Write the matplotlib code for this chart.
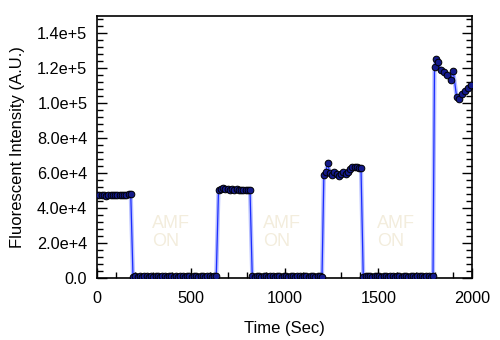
import numpy as np
import matplotlib as mpl
mpl.use('Agg')
import matplotlib.pyplot as plt
from matplotlib.ticker import MultipleLocator, FuncFormatter

plt.rcParams['font.family'] = ['Liberation Sans', 'DejaVu Sans']

## readings, ~12 s sampling
t_on1 = [0, 12, 24, 36, 48, 60, 72, 84, 96, 108, 120, 132, 144, 156, 168, 180]
v_on1 = [47800, 47500, 47300, 47600, 47200, 47400, 47700, 47300, 47500, 47600, 47400,
         47700, 47500, 47800, 47900, 48300]

t_off1 = [192, 204, 216, 228, 240, 252, 264, 276, 288, 300, 312, 324, 336, 348, 360, 372,
          384, 396, 408, 420, 432, 444, 456, 468, 480, 492, 504, 516, 528, 540, 552, 564,
          576, 588, 600, 612, 624, 636]
v_off1 = [900, 1000, 800, 1100, 900, 1000, 1200, 900, 1000, 800, 1100, 1000, 900, 1000,
          1100, 900, 1000, 1200, 900, 1000, 800, 1100, 1000, 900, 1000, 1100, 900, 1000,
          1000, 900, 1100, 1000, 900, 1000, 1100, 900, 1000, 1000]

t_on2 = [648, 660, 672, 684, 696, 708, 720, 732, 744, 756, 768, 780, 792, 804, 816]
v_on2 = [50300, 51000, 51300, 50800, 51200, 50700, 51000, 50500, 50900, 50400, 50700,
         50300, 50600, 50400, 50500]

t_off2 = [828, 840, 852, 864, 876, 888, 900, 912, 924, 936, 948, 960, 972, 984, 996, 1008,
          1020, 1032, 1044, 1056, 1068, 1080, 1092, 1104, 1116, 1128, 1140, 1152, 1164,
          1176, 1188, 1200]
v_off2 = [1000, 900, 1100, 1000, 900, 1000, 1100, 900, 1000, 1000, 900, 1100, 1000, 900,
          1000, 1100, 900, 1000, 1000, 900, 1100, 1000, 900, 1000, 1100, 900, 1000, 1000,
          900, 1100, 1000, 900]

t_on3 = [1210, 1220, 1230, 1242, 1254, 1266, 1278, 1290, 1302, 1314, 1326, 1338, 1350,
         1362, 1374, 1386, 1398, 1408]
v_on3 = [59000, 60500, 66000, 60000, 59200, 60800, 59500, 58600, 59300, 60500, 59800,
         60700, 62300, 63500, 63800, 63700, 63200, 62800]

t_off3 = [1420, 1432, 1444, 1456, 1468, 1480, 1492, 1504, 1516, 1528, 1540, 1552, 1564,
          1576, 1588, 1600, 1612, 1624, 1636, 1648, 1660, 1672, 1684, 1696, 1708, 1720,
          1732, 1744, 1756, 1768, 1780, 1792]
v_off3 = [900, 1000, 1100, 1000, 900, 1000, 1000, 1100, 900, 1000, 1000, 900, 1100, 1000,
          900, 1000, 1100, 900, 1000, 1000, 900, 1100, 1000, 900, 1000, 1000, 1100, 900,
          1000, 1000, 900, 1000]

t_on4 = [1800, 1808, 1820, 1833, 1851, 1868, 1886, 1900, 1918, 1932, 1945, 1963, 1980, 1992]
v_on4 = [121000, 125500, 123600, 118900, 118000, 116000, 113500, 118500, 103600, 102500,
         105500, 107000, 109000, 110500]

amf_x = [293, 885, 1493]
amf_y = [26000, 26000, 26000]

t = np.array(t_on1 + t_off1 + t_on2 + t_off2 + t_on3 + t_off3 + t_on4)
v = np.array(v_on1 + v_off1 + v_on2 + v_off2 + v_on3 + v_off3 + v_on4)

fig = plt.figure(figsize=(5.0, 3.4), dpi=100)
sp = fig.add_axes([0.194, 0.182, 0.75, 0.771])

sp.plot(t, v, '-', color='#9aa6ff', lw=3.0, alpha=0.7, zorder=2)
sp.plot(t, v, '-', color='#1a2cff', lw=0.9, zorder=3)
sp.plot(t, v, 'o', ms=4.8, mfc='#141a8a', mec='black', mew=0.7, zorder=4)

for x, y in zip(amf_x, amf_y):
    sp.text(x, y, "AMF\nON", color='#f3eddd', fontsize=13, ha='left', va='center',
            linespacing=1.1, zorder=1)

sp.set_xlim(0, 2000)
sp.set_ylim(0, 150000)
sp.xaxis.set_major_locator(MultipleLocator(500))
sp.xaxis.set_minor_locator(MultipleLocator(100))
sp.yaxis.set_major_locator(MultipleLocator(20000))
sp.yaxis.set_minor_locator(MultipleLocator(4000))

def sci(val, pos):
    if val == 0:
        return "0.0"
    e = int(np.floor(np.log10(abs(val))))
    return "{0:.1f}e+{1}".format(val / 10**e, e)

sp.yaxis.set_major_formatter(FuncFormatter(sci))
sp.tick_params(which='both', direction='in', top=False, right=True, labelsize=11.7, width=1)
sp.tick_params(which='major', length=7)
sp.tick_params(which='minor', length=4)
sp.tick_params(axis='x', pad=9)
sp.tick_params(axis='y', pad=7)
for s in sp.spines.values():
    s.set_linewidth(1.2)

sp.set_xlabel("Time (Sec)", fontsize=12, labelpad=11)
sp.set_ylabel("Fluorescent Intensity (A.U.)", fontsize=12, labelpad=9)

fig.savefig("out.png", dpi=100)
